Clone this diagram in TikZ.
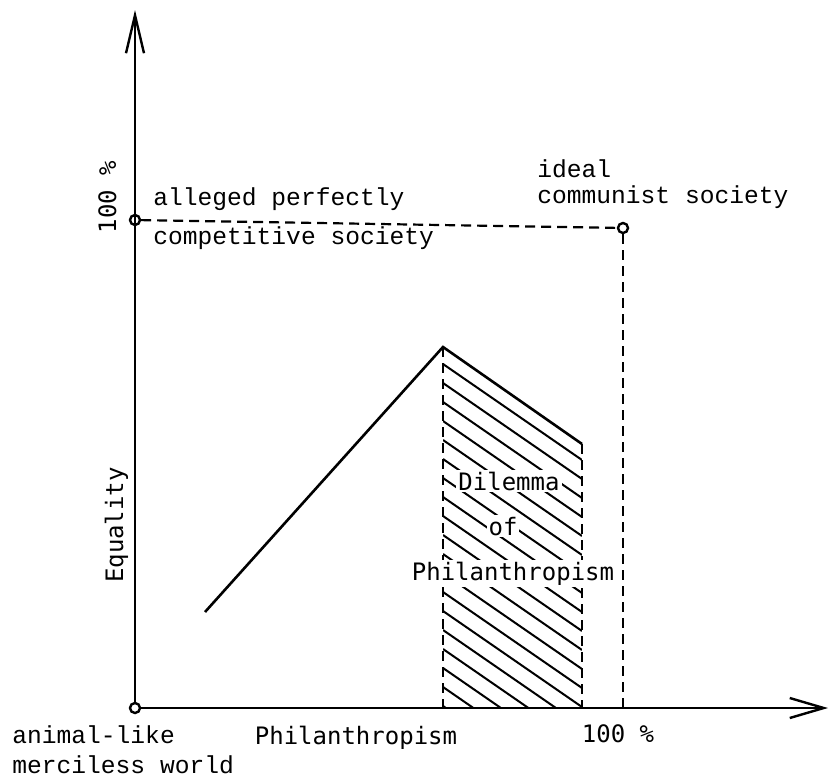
\documentclass[tikz,border=0pt]{standalone}
\usepackage{fontspec}
\newfontfamily\typefont{Liberation Mono}
\newfontfamily\gothfont{DejaVu Sans Mono}
\usetikzlibrary{arrows.meta}

\begin{document}
\begin{tikzpicture}[x=0.5pt,y=-0.5pt,
  axis/.style={line width=1.2pt},
  guide/.style={line width=1.1pt, dash pattern=on 5pt off 3pt},
  curve/.style={line width=1.3pt},
  hatchline/.style={line width=1pt},
  dot/.style={circle, draw, line width=1.2pt, fill=white, inner sep=0pt,
    minimum size=5pt},
  typelabel/.style={font=\typefont\fontsize{12.3}{14}\selectfont, inner sep=0pt},
  gothlabel/.style={font=\gothfont\fontsize{12}{14}\selectfont, inner sep=1pt}]
  \useasboundingbox (0,0) rectangle (829,776);

  \coordinate (ytip) at (135,10);
  \coordinate (xtip) at (828,708);
  \coordinate (start) at (205,612);
  \coordinate (peak) at (443,347);
  \coordinate (drop) at (582,444);
  \coordinate (peakfoot) at (443,708);
  \coordinate (dropfoot) at (582,708);
  \coordinate (idealfoot) at (623,708);

  \node[dot] (origin) at (135,708) {};
  \node[dot] (competitive) at (135,220) {};
  \node[dot] (communist) at (623,228) {};

  \draw[axis, -{Straight Barb[length=19pt,width=9pt]}] (origin) -- (ytip);
  \draw[axis, -{Straight Barb[length=17pt,width=10pt]}] (origin) -- (xtip);

  \draw[guide] (competitive) -- (communist);
  \draw[guide] (communist) -- (idealfoot);

  \begin{scope}
    \clip (peak) -- (drop) -- (dropfoot) -- (peakfoot) -- cycle;
    \foreach \k in {0,...,23}
      \draw[hatchline] (443,{364+19*\k}) -- ++(139,96);
  \end{scope}
  \draw[guide] (peak) -- (peakfoot);
  \draw[guide] (drop) -- (dropfoot);

  \draw[curve] (start) -- (peak) -- (drop);

  \node[gothlabel, fill=white, anchor=base] (dilemma) at (509,490) {Dilemma};
  \node[gothlabel, fill=white, anchor=base] (of) at (503,535) {of};
  \node[gothlabel, fill=white, anchor=base] (philan) at (513,580)
    {Philanthropism};

  \node[typelabel, anchor=base west] (alleged1) at (153,205) {alleged perfectly};
  \node[typelabel, anchor=base west] (alleged2) at (153,244) {competitive society};
  \node[typelabel, anchor=base west] (ideal1) at (537,177) {ideal};
  \node[typelabel, anchor=base west] (ideal2) at (537,203) {communist society};
  \node[typelabel, anchor=base west] (animal1) at (12,743) {animal-like};
  \node[typelabel, anchor=base west] (animal2) at (12,773) {merciless world};

  \node[gothlabel, anchor=base] (xlabel) at (356,744) {Philanthropism};
  \node[gothlabel, anchor=base] (xfull) at (618,742) {100 \%};
  \node[gothlabel, anchor=base, rotate=90] (ylabel) at (123,525) {Equality};
  \node[gothlabel, anchor=base, rotate=90] (yfull) at (116,197) {100 \%};
\end{tikzpicture}
\end{document}
